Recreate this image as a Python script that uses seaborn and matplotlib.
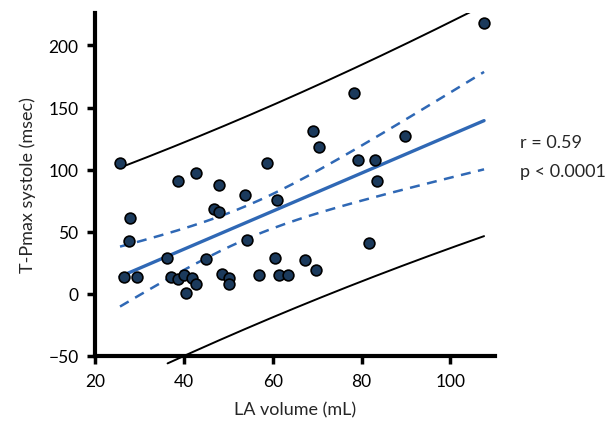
import numpy as np
import pandas as pd
import matplotlib
matplotlib.use("Agg")
import matplotlib.pyplot as plt
import seaborn as sns

# LA volume (mL) and T-Pmax systole (msec)
la_volume = [25.6, 27.8, 27.6, 26.4, 29.4, 36.1, 38.7, 42.8, 47.9, 53.8,
             58.7, 61.0, 46.7, 47.9, 54.2, 44.9, 37.1, 38.7, 39.9, 41.9,
             42.8, 40.5, 48.6, 50.2, 50.2, 56.9, 60.6, 61.3, 63.5, 67.2,
             69.8, 70.5, 69.1, 107.6, 78.4, 89.8, 79.2, 83.1, 83.4, 81.6]
t_pmax = [105.3, 61.3, 42.4, 13.4, 13.4, 28.7, 90.6, 97.3, 87.6, 79.3,
          105.3, 75.6, 68.3, 65.7, 43.6, 28.4, 13.4, 12.0, 15.3, 12.6,
          8.0, 0.8, 16.0, 12.6, 8.0, 15.0, 28.7, 15.0, 15.0, 27.3,
          19.0, 117.9, 131.3, 217.8, 161.6, 127.2, 108.0, 108.0, 90.6, 40.7]
stats_text = ["r = 0.59", "p < 0.0001"]

df = pd.DataFrame({"la": la_volume, "tp": t_pmax})

sns.set_style("white")
plt.rcParams["font.family"] = ["Lato", "DejaVu Sans"]

fig = plt.figure(figsize=(6.1, 4.27), dpi=100)
ax = fig.add_axes([0.156, 0.164, 0.655, 0.803])

# linear fit with 95% confidence and prediction bands
x = df["la"].values
y = df["tp"].values
n = len(x)
b, a = np.polyfit(x, y, 1)
resid = y - (a + b * x)
s = np.sqrt(np.sum(resid ** 2) / (n - 2))
t = 2.024
xs = np.linspace(x.min(), x.max(), 200)
fit = a + b * xs
sxx = np.sum((x - x.mean()) ** 2)
ci = t * s * np.sqrt(1 / n + (xs - x.mean()) ** 2 / sxx)
pi = t * s * np.sqrt(1 + 1 / n + (xs - x.mean()) ** 2 / sxx)

blue = "#2f68b5"
ax.plot(xs, fit, color=blue, lw=2.4, zorder=2)
ax.plot(xs, fit + ci, color=blue, lw=1.8, ls=(0, (4, 3)), zorder=2)
ax.plot(xs, fit - ci, color=blue, lw=1.8, ls=(0, (4, 3)), zorder=2)
ax.plot(xs, fit + pi, color="black", lw=1.4, zorder=2)
lower = np.where(fit - pi > -56, fit - pi, np.nan)
ax.plot(xs, lower, color="black", lw=1.4, zorder=2, clip_on=False)

sns.scatterplot(data=df, x="la", y="tp", ax=ax, s=60, color="#1b3a5c",
                edgecolor="black", linewidth=1.2, zorder=3, clip_on=False)

ax.set_xlim(20, 110)
ax.set_ylim(-50, 226)
ax.set_xticks([20, 40, 60, 80, 100])
ax.set_yticks([-50, 0, 50, 100, 150, 200])
ax.set_yticklabels(["\u221250", "0", "50", "100", "150", "200"])
ax.set_xlabel("LA volume (mL)", fontsize=13, labelpad=9)
ax.set_ylabel("T-Pmax systole (msec)", fontsize=13, labelpad=9)

sns.despine(ax=ax)
for side in ["left", "bottom"]:
    ax.spines[side].set_linewidth(3)
    ax.spines[side].set_color("black")
ax.tick_params(axis="both", direction="out", length=6, width=2.5,
               labelsize=12.5, colors="black", pad=6, left=True, bottom=True)

fig.text(0.852, 0.665, stats_text[0], fontsize=13, va="center")
fig.text(0.852, 0.598, stats_text[1], fontsize=13, va="center")

fig.savefig("out.png", dpi=100)
